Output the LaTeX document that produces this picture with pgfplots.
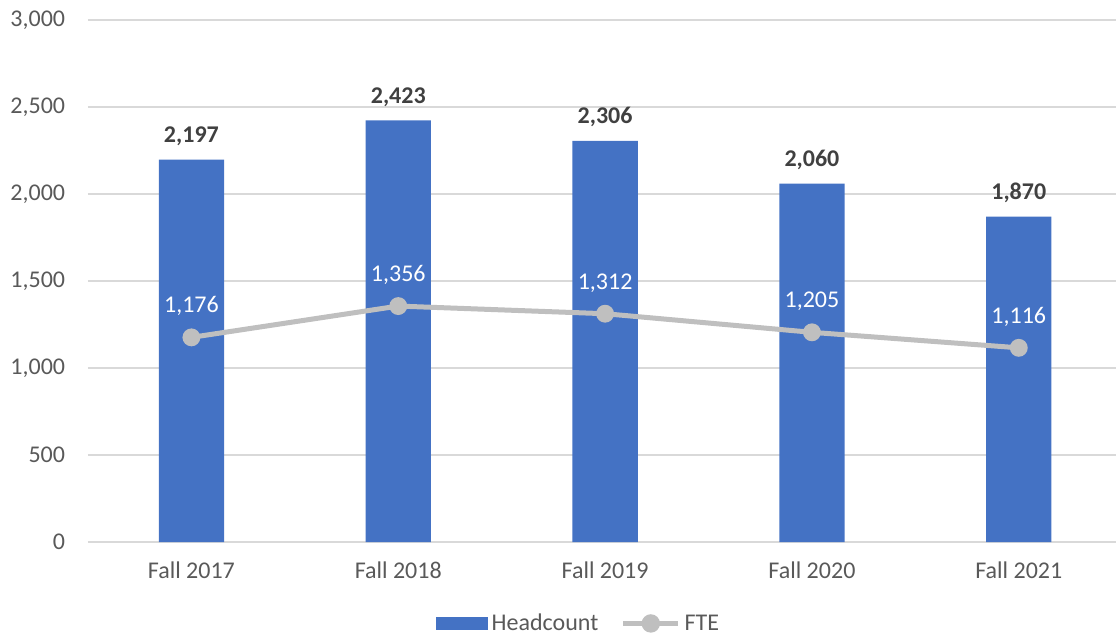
\documentclass[border=0pt]{standalone}
\usepackage{pgfplots}
\pgfplotsset{compat=1.18}
\usepackage{fontspec}
\setmainfont{Carlito}
\definecolor{hc}{HTML}{4472C4}
\definecolor{fte}{HTML}{BFBFBF}
\definecolor{gridc}{HTML}{D9D9D9}
\definecolor{tickc}{HTML}{595959}
\definecolor{labc}{HTML}{404040}
\begin{document}
\begin{tikzpicture}
\useasboundingbox (0,0) rectangle (837pt,477.75pt);
\begin{axis}[
 at={(66pt,71.25pt)}, anchor=south west,
 scale only axis, width=771pt, height=391.5pt,
 xmin=-0.5, xmax=4.47, ymin=0, ymax=3000,
 ytick={0,500,...,3000},
 xtick={0,1,2,3,4},
 xticklabels={Fall 2017,Fall 2018,Fall 2019,Fall 2020,Fall 2021},
 ymajorgrids, grid style={draw=gridc, line width=1.3pt},
 axis line style={draw=none}, major tick length=0pt,
 tick label style={color=tickc, font=\fontsize{18}{21}\selectfont},
 yticklabel style={anchor=east, inner sep=0pt, xshift=-17pt},
 xticklabel style={anchor=north, inner sep=0pt, yshift=-15pt},
 /pgf/number format/assume math mode=true,
 /pgf/number format/1000 sep={,},
 legend columns=2,
 legend style={draw=none, fill=none, at={(0.4767,-0.156)}, anchor=center,
   font=\fontsize{18}{21}\selectfont, text=tickc, inner sep=0pt,
   /tikz/every odd column/.append style={column sep=2pt},
   /tikz/every even column/.append style={column sep=16pt},
   nodes={inner sep=1pt}},
 clip=false,
]
\addplot[ybar, bar width=49pt, bar shift=0pt, fill=hc, draw=none,
  nodes near coords,
  nodes near coords style={anchor=base, yshift=13pt, color=labc, font=\fontsize{18}{21}\selectfont\bfseries},
  legend image code/.code={\fill[hc] (0pt,-5pt) rectangle (39pt,5pt);}]
 coordinates {(0,2197) (1,2423) (2,2306) (3,2060) (4,1870)};
\addlegendentry{Headcount}
\addplot[color=fte, line width=3.75pt, mark=*, mark size=4.8pt, mark options={fill=fte, draw=none},
  nodes near coords,
  nodes near coords style={anchor=base, yshift=18.5pt, color=white, font=\fontsize{18}{21}\selectfont},
  legend image code/.code={\draw[fte, line width=3.75pt] (0pt,0pt) -- (41pt,0pt); \fill[fte] (20.5pt,0pt) circle (5pt);}]
 coordinates {(0,1176) (1,1356) (2,1312) (3,1205) (4,1116)};
\addlegendentry{FTE}
\end{axis}
\end{tikzpicture}
\end{document}
